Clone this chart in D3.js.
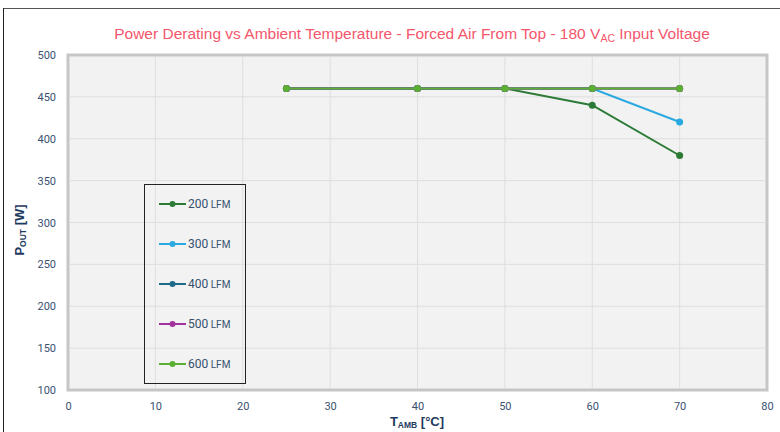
<!DOCTYPE html>
<html><head><meta charset="utf-8">
<script src="https://cdn.jsdelivr.net/npm/d3@7"></script>
<style>
html,body{margin:0;padding:0;background:#fff;}
svg{display:block;font-family:"Liberation Sans",Arial,sans-serif;}
</style></head>
<body>
<svg id="c" width="780" height="432"></svg>
<script>
const temps = [25, 40, 50, 60, 70];
const seriesNames = ["200", "300", "400", "500", "600"];
const s200 = [460, 460, 460, 440, 380];
const s300 = [460, 460, 460, 460, 420];
const s400 = [460, 460, 460, 460, 460];
const s500 = [460, 460, 460, 460, 460];
const s600 = [460, 460, 460, 460, 460];
const seriesValues = [s200, s300, s400, s500, s600];
const colors = ["#2b7a35", "#2aa9e0", "#1d6a8a", "#a3329e", "#5bb034"];
const xTicks = [0, 10, 20, 30, 40, 50, 60, 70, 80];
const yTicks = [100, 150, 200, 250, 300, 350, 400, 450, 500];

const svg = d3.select("#c");
const L = 68, R = 767, T = 55, B = 390;
const x = d3.scaleLinear().domain([0, 80]).range([L, R]);
const y = d3.scaleLinear().domain([100, 500]).range([B, T]);

// outer frame
svg.append("line").attr("x1", 3).attr("x2", 780).attr("y1", 8.5).attr("y2", 8.5).attr("stroke", "#555").attr("stroke-width", 1.2);
svg.append("line").attr("x1", 3.5).attr("x2", 3.5).attr("y1", 8).attr("y2", 432).attr("stroke", "#222").attr("stroke-width", 1);

// plot area
svg.append("rect").attr("x", L).attr("y", T).attr("width", R - L).attr("height", B - T)
  .attr("fill", "#f2f2f2").attr("stroke", "#c6c6c6").attr("stroke-width", 3);

// grid
svg.append("g").selectAll("line").data(xTicks.slice(1, -1)).join("line")
  .attr("x1", d => x(d)).attr("x2", d => x(d)).attr("y1", T + 1.5).attr("y2", B - 1.5)
  .attr("stroke", "#dedede").attr("stroke-width", 1);
svg.append("g").selectAll("line").data(yTicks.slice(1, -1)).join("line")
  .attr("y1", d => y(d)).attr("y2", d => y(d)).attr("x1", L + 1.5).attr("x2", R - 1.5)
  .attr("stroke", "#dedede").attr("stroke-width", 1);

// axes
const tickColor = "#3a5270";
const xAxis = d3.axisBottom(x).tickValues(xTicks).tickSize(0).tickPadding(12);
const gx = svg.append("g").attr("transform", `translate(0,${B})`).call(xAxis);
gx.select(".domain").remove();
gx.selectAll("text").attr("fill", tickColor).style("font-size", "11px").style("font-family", "Roboto, 'Liberation Sans', sans-serif");
const yAxis = d3.axisLeft(y).tickValues(yTicks).tickSize(0).tickPadding(12);
const gy = svg.append("g").attr("transform", `translate(${L},0)`).call(yAxis);
gy.select(".domain").remove();
gy.selectAll("text").attr("fill", tickColor).style("font-size", "11px").style("font-family", "Roboto, 'Liberation Sans', sans-serif");

// title
const title = svg.append("text").attr("x", 412).attr("y", 39).attr("text-anchor", "middle")
  .attr("fill", "#f4566b").style("font-size", "15.5px");
title.append("tspan").text("Power Derating vs Ambient Temperature - Forced Air From Top - 180 V");
title.append("tspan").text("AC").style("font-size", "10.5px").attr("dy", 3);
title.append("tspan").text(" Input Voltage").attr("dy", -3);

// axis titles
const axColor = "#1e3a5c";
const xt = svg.append("text").attr("x", 417).attr("y", 426).attr("text-anchor", "middle")
  .attr("fill", axColor).style("font-size", "13px").style("font-weight", "bold");
xt.append("tspan").text("T");
xt.append("tspan").text("AMB").style("font-size", "8.5px").attr("dy", 2);
xt.append("tspan").text(" [°C]").attr("dy", -2);

const yt = svg.append("text").attr("transform", "translate(24,230) rotate(-90)").attr("text-anchor", "middle")
  .attr("fill", axColor).style("font-size", "13px").style("font-weight", "bold");
yt.append("tspan").text("P");
yt.append("tspan").text("OUT").style("font-size", "8.5px").attr("dy", 2);
yt.append("tspan").text(" [W]").attr("dy", -2);

// series
const line = d3.line().x((d, i) => x(temps[i])).y(d => y(d));
seriesValues.forEach((vals, k) => {
  const g = svg.append("g");
  g.append("path").attr("d", line(vals)).attr("fill", "none").attr("stroke", colors[k]).attr("stroke-width", 2);
  g.selectAll("circle").data(vals).join("circle")
    .attr("cx", (d, i) => x(temps[i])).attr("cy", d => y(d)).attr("r", 3.5).attr("fill", colors[k]);
});

// legend
const lg = svg.append("g");
lg.append("rect").attr("x", 144.5).attr("y", 184.5).attr("width", 101).attr("height", 199)
  .attr("fill", "none").attr("stroke", "#222").attr("stroke-width", 1);
seriesNames.forEach((n, k) => {
  const yy = 204 + k * 40;
  lg.append("line").attr("x1", 159).attr("x2", 186).attr("y1", yy).attr("y2", yy).attr("stroke", colors[k]).attr("stroke-width", 2);
  lg.append("circle").attr("cx", 172.5).attr("cy", yy).attr("r", 3).attr("fill", colors[k]);
  const t = lg.append("text").attr("x", 188).attr("y", yy + 4).attr("fill", "#34506e")
    .style("font-size", "12px").style("font-family", "Roboto, 'Liberation Sans', sans-serif");
  t.append("tspan").text(n);
  t.append("tspan").text(" LFM").style("font-size", "10px");
});
</script>
</body></html>
